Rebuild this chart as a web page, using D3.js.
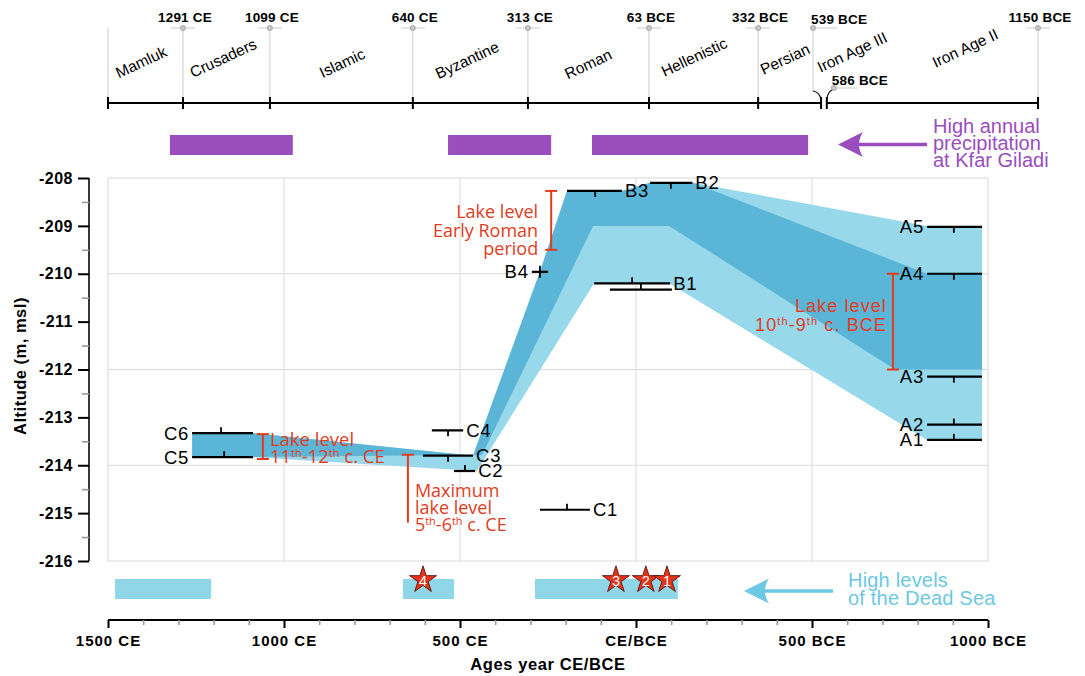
<!DOCTYPE html>
<html><head><meta charset="utf-8">
<script src="https://cdn.jsdelivr.net/npm/d3@7"></script>
<style>body{margin:0;background:#fff}svg{display:block}</style>
</head><body>
<svg id="chart" width="1085" height="676"></svg>
<script>
// ---------------- DATA ----------------
// years: CE positive, BCE negative
const yearDomain = [1500, -1000];
const altitudeDomain = [-208, -216];
const xTickYears = [1500, 1000, 500, 0, -500, -1000];
const xTickLabels = ["1500 CE", "1000 CE", "500 CE", "CE/BCE", "500 BCE", "1000 BCE"];
const xMinorYears = d3.range(1500, -1001, -100);
const yTickValues = [-208, -209, -210, -211, -212, -213, -214, -215, -216];
const yTickLabels = ["-208", "-209", "-210", "-211", "-212", "-213", "-214", "-215", "-216"];
const yMinorValues = [-208.5, -209.5, -210.5, -211.5, -212.5, -213.5, -214.5, -215.5];
const yGridValues = [-210, -212, -214];
const xGridYears = [1000, 500, 0, -500];

// dated samples (age ranges) and their altitudes
const sampleNames   = ["A1", "A2", "A3", "A4", "A5", "B1", "", "B2", "B3", "B4", "C1", "C2", "C3", "C4", "C5", "C6"];
const sampleAlt     = [-213.47, -213.15, -212.15, -210.0, -209.02, -210.2, -210.33, -208.1, -208.27, -209.96, -214.93, -214.12, -213.8, -213.27, -213.83, -213.33];
const sampleFrom    = [-827, -827, -827, -827, -827, 119, 74, -40, 196, 296, 273, 517, 605, 580, 1261, 1261];
const sampleTo      = [-983, -983, -983, -983, -983, -97, -102, -160, 40, 250, 131, 457, 463, 491, 1088, 1088];
const sampleMid     = [-903, -903, -903, -903, -903, 11, -14, -99, 116, 273, 196, 486, 534, 534, 1170, 1179];
const sampleTick    = ["up", "up", "down", "down", "down", "up", "up", "down", "down", "both", "up", "up", "down", "down", "up", "up"];
const sampleLabelAt = ["left", "left", "left", "left", "left", "right", "right", "right", "right", "left", "right", "right", "right", "right", "left", "left"];

// lake-level envelopes [year, altitude]
const lightUpper = [[1261, -213.33], [1088, -213.33], [463, -213.80], [273, -209.96], [196, -208.27], [40, -208.27], [-40, -208.10], [-162, -208.10], [-827, -209.0], [-983, -209.0]];
const lightLower = [[-983, -213.47], [-827, -213.47], [-94, -210.2], [119, -210.2], [452, -214.12], [1088, -213.83], [1261, -213.83]];
const darkUpper  = [[1261, -213.33], [1088, -213.33], [463, -213.80], [273, -209.96], [196, -208.27], [40, -208.27], [-40, -208.10], [-162, -208.10], [-827, -210.0], [-983, -210.0]];
const darkLower  = [[-983, -212.0], [-736, -212.0], [-94, -209.0], [122, -209.0], [437, -213.78], [1088, -213.83], [1261, -213.83]];

// red lake-level annotations
const annYear  = [241, -730, 1060, 648];
const annTop   = [-208.27, -210.0, -213.35, -213.78];
const annBot   = [-209.5, -212.0, -213.87, -215.2];
const annCaps  = ["both", "both", "both", "top"];
const annLines = [
  ["Lake level", "Early Roman", "period"],
  ["Lake level", "10^th^-9^th^ c. BCE"],
  ["Lake level", "11^th^-12^th^ c. CE"],
  ["Maximum", "lake level", "5^th^-6^th^ c. CE"]
];

// high Dead Sea levels and Kfar Giladi precipitation periods
const deadSeaStart = [1480, 662, 287];
const deadSeaEnd   = [1207, 517, -119];
const precipStart  = [1324, 534, 125];
const precipEnd    = [975, 241, -489];
const starLabels   = ["4", "3", "2", "1"];
const starYears    = [605, 57, -28, -88];

// historical timeline (positions)
const markerLabels  = ["1291 CE", "1099 CE", "640 CE", "313 CE", "63 BCE", "332 BCE", "539 BCE", "586 BCE", "1150 BCE"];
const markerPlotAt  = [1287, 1040, 634, 307, -37, -347, -503, -562, -1142];
const periodNames   = ["Mamluk", "Crusaders", "Islamic", "Byzantine", "Roman", "Hellenistic", "Persian", "Iron Age III", "Iron Age II"];
const periodPlotAt  = [1406, 1173, 835, 480, 136, -165, -423, -614, -935];

// ---------------- LAYOUT / STYLE ----------------
const FONT = "'Liberation Sans', Arial, Helvetica, sans-serif";
const SERIF_RED = "'Open Sans', 'Noto Sans', sans-serif";
const RED = "#e23c1e", DARK = "#5bb5d7", LIGHT = "#97d8eb", PURPLE = "#9a4ebe", DSBAR = "#8fd6e9", DSTEXT = "#6cc8e3";
const periodY = [62, 58, 63, 60, 64, 57, 59, 52, 48];

const svg = d3.select("#chart");
const x = d3.scaleLinear().domain(yearDomain).range([108, 988]);
const y = d3.scaleLinear().domain(altitudeDomain).range([178, 561]);

// rich text helper: ^..^ marks superscript
function rich(textSel, str, supSize) {
  const parts = str.split("^");
  let raised = false;
  parts.forEach((p, i) => {
    if (!p) return;
    const isSup = i % 2 === 1;
    const t = textSel.append("tspan").text(p);
    if (isSup && !raised) { t.attr("dy", -6).attr("font-size", supSize); raised = true; }
    else if (isSup) { t.attr("font-size", supSize); }
    else if (!isSup && raised) { t.attr("dy", 6); raised = false; }
  });
}

// ---------- grid & frame ----------
const grid = svg.append("g").attr("stroke", "#d9d9d9").attr("stroke-width", 1).attr("fill", "none");
grid.selectAll("line.v").data(xGridYears).join("line")
  .attr("x1", d => x(d)).attr("x2", d => x(d)).attr("y1", y(-208)).attr("y2", y(-216));
grid.selectAll("line.h").data(yGridValues).join("line")
  .attr("x1", x(1500)).attr("x2", x(-1000)).attr("y1", d => y(d)).attr("y2", d => y(d));
grid.append("rect").attr("x", x(1500)).attr("y", y(-208)).attr("width", x(-1000) - x(1500)).attr("height", y(-216) - y(-208));

// ---------- bands ----------
const pline = d3.line().x(d => x(d[0])).y(d => y(d[1]));
svg.append("path").attr("d", pline(lightUpper.concat(lightLower)) + "Z").attr("fill", LIGHT);
svg.append("path").attr("d", pline(darkUpper.concat(darkLower)) + "Z").attr("fill", DARK);

// ---------- red annotations ----------
const ann = svg.append("g");
annYear.forEach((yr, i) => {
  const cx = x(yr), y1 = y(annTop[i]), y2 = y(annBot[i]);
  ann.append("line").attr("x1", cx).attr("x2", cx).attr("y1", y1).attr("y2", y2).attr("stroke", RED).attr("stroke-width", 2);
  ann.append("line").attr("x1", cx - 6).attr("x2", cx + 6).attr("y1", y1).attr("y2", y1).attr("stroke", RED).attr("stroke-width", 2);
  if (annCaps[i] === "both")
    ann.append("line").attr("x1", cx - 6).attr("x2", cx + 6).attr("y1", y2).attr("y2", y2).attr("stroke", RED).attr("stroke-width", 2);
});
function annText(i, anchor, dx, baselines, family, size, ls) {
  annLines[i].forEach((s, k) => {
    const t = ann.append("text").attr("x", x(annYear[i]) + dx).attr("y", baselines[k])
      .attr("text-anchor", anchor).attr("fill", RED).attr("font-family", family)
      .attr("font-size", size).attr("letter-spacing", ls);
    rich(t, s, 11);
  });
}
annText(0, "end", -13, [218, 237, 255], SERIF_RED, 18, 0);
annText(1, "end", -6, [312, 331], FONT, 18, 1.1);
annText(2, "start", 7, [446, 463], SERIF_RED, 18.5, 0);
annText(3, "start", 7, [497, 514, 531], SERIF_RED, 18, 0);

// ---------- samples ----------
const smp = svg.append("g").attr("stroke", "#000").attr("stroke-width", 2.2);
sampleNames.forEach((n, i) => {
  const yy = y(sampleAlt[i]);
  smp.append("line").attr("x1", x(sampleFrom[i])).attr("x2", x(sampleTo[i])).attr("y1", yy).attr("y2", yy);
  const tx = x(sampleMid[i]);
  const t = sampleTick[i];
  const ya = t === "down" ? yy : yy - 6, yb = t === "up" ? yy : yy + 6;
  smp.append("line").attr("x1", tx).attr("x2", tx).attr("y1", ya).attr("y2", yb).attr("stroke-width", 1.8);
  if (n) {
    const left = sampleLabelAt[i] === "left";
    const ex = left ? Math.min(x(sampleFrom[i]), x(sampleTo[i])) - 3 : Math.max(x(sampleFrom[i]), x(sampleTo[i])) + 3;
    svg.append("text").attr("x", ex).attr("y", yy + 6.5).attr("text-anchor", left ? "end" : "start")
      .attr("font-family", FONT).attr("font-size", 18.5).attr("letter-spacing", 0.8).attr("fill", "#000").text(n);
  }
});

// ---------- y axis ----------
const yAxis = svg.append("g").attr("transform", "translate(89,0)")
  .call(d3.axisLeft(y).tickValues(yTickValues).tickSize(11).tickPadding(5).tickFormat((d, i) => yTickLabels[i]));
yAxis.select(".domain").attr("stroke", "#222").attr("stroke-width", 1.8).attr("d", `M0,${y(-208)}V${y(-216)}`);
yAxis.selectAll(".tick line").attr("stroke", "#000").attr("stroke-width", 2);
yAxis.selectAll(".tick text").attr("font-family", FONT).attr("font-size", 16).attr("font-weight", "bold").attr("letter-spacing", 0.5).attr("fill", "#000");
const yMinor = svg.append("g").attr("transform", "translate(89,0)")
  .call(d3.axisLeft(y).tickValues(yMinorValues).tickSize(7).tickFormat(""));
yMinor.select(".domain").remove();
yMinor.selectAll(".tick line").attr("stroke", "#999").attr("stroke-width", 1.6);
svg.append("text").attr("transform", "translate(26,366) rotate(-90)").attr("text-anchor", "middle")
  .attr("font-family", FONT).attr("font-size", 16.5).attr("font-weight", "bold").attr("letter-spacing", 0.5).text("Altitude (m, msl)");

// ---------- bottom bars, stars, arrow ----------
svg.selectAll("rect.ds").data(deadSeaStart).join("rect").attr("class", "ds")
  .attr("x", (d, i) => x(d)).attr("width", (d, i) => x(deadSeaEnd[i]) - x(d))
  .attr("y", 579).attr("height", 20).attr("fill", DSBAR);
const star = d3.symbol().type(d3.symbolStar).size(225);
starYears.forEach((yr, i) => {
  svg.append("path").attr("d", star()).attr("transform", `translate(${x(yr)},580)`)
    .attr("fill", "#e5321b").attr("stroke", "#5a1508").attr("stroke-width", 0.9);
  svg.append("text").attr("x", x(yr)).attr("y", 585.5).attr("text-anchor", "middle").attr("fill", "#fff")
    .attr("font-family", FONT).attr("font-size", 14.5).text(starLabels[i]);
});
function arrow(x0, x1, yc, color, w) {
  svg.append("line").attr("x1", x0 + 18).attr("x2", x1).attr("y1", yc).attr("y2", yc).attr("stroke", color).attr("stroke-width", w);
  svg.append("path").attr("fill", color)
    .attr("d", `M${x0},${yc} L${x0 + 25},${yc - 12.5} Q${x0 + 17},${yc} ${x0 + 25},${yc + 12.5} Z`);
}
arrow(744, 833, 591, DSTEXT, 3.4);
["High levels", "of the Dead Sea"].forEach((s, k) =>
  svg.append("text").attr("x", 848).attr("y", [587, 605][k]).attr("fill", DSTEXT)
    .attr("font-family", FONT).attr("font-size", 20).attr("letter-spacing", 0.2).text(s));

// ---------- x axis ----------
const xAxis = svg.append("g").attr("transform", "translate(0,620)")
  .call(d3.axisBottom(x).tickValues(xTickYears).tickSize(8).tickPadding(7).tickFormat((d, i) => xTickLabels[i]));
xAxis.select(".domain").attr("stroke", "#000").attr("stroke-width", 2).attr("d", `M${x(1500)},0H${x(-1000)}`);
xAxis.selectAll(".tick line").attr("stroke", "#000").attr("stroke-width", 2);
xAxis.selectAll(".tick text").attr("font-family", FONT).attr("font-size", 15).attr("font-weight", "bold").attr("letter-spacing", 1).attr("fill", "#000");
const xMinor = svg.append("g").attr("transform", "translate(0,620)")
  .call(d3.axisBottom(x).tickValues(xMinorYears.filter(v => v % 500 !== 0)).tickSize(5).tickFormat(""));
xMinor.select(".domain").remove();
xMinor.selectAll(".tick line").attr("stroke", "#999").attr("stroke-width", 1.6);
svg.append("text").attr("x", 548).attr("y", 670).attr("text-anchor", "middle")
  .attr("font-family", FONT).attr("font-size", 16.5).attr("font-weight", "bold").attr("letter-spacing", 0.6).text("Ages year CE/BCE");

// ---------- precipitation ----------
svg.selectAll("rect.pp").data(precipStart).join("rect").attr("class", "pp")
  .attr("x", d => x(d)).attr("width", (d, i) => x(precipEnd[i]) - x(d))
  .attr("y", 135).attr("height", 20).attr("fill", PURPLE);
arrow(838, 927, 144.5, PURPLE, 3.6);
["High annual", "precipitation", "at Kfar Giladi"].forEach((s, k) =>
  svg.append("text").attr("x", 933).attr("y", [133, 150, 167][k]).attr("fill", PURPLE)
    .attr("font-family", FONT).attr("font-size", 20).text(s));

// ---------- top timeline ----------
const TL = 103, TOP = 28;
const tl = svg.append("g");
const mx = markerPlotAt.map(d => x(d));
const breakL = mx[6] + 8, breakR = mx[7] - 7;
// gray guide lines
tl.append("line").attr("x1", x(1500)).attr("x2", x(1500)).attr("y1", TOP).attr("y2", TL).attr("stroke", "#ccc");
mx.forEach((px, i) => {
  if (i === 7) return;
  tl.append("line").attr("x1", px).attr("x2", px).attr("y1", TOP).attr("y2", i === 6 ? 91 : TL).attr("stroke", "#ccc");
});
// break hooks
tl.append("path").attr("d", `M${mx[6]},91 Q${mx[6] + 6},92 ${breakL},99`).attr("fill", "none").attr("stroke", "#000").attr("stroke-width", 1.2);
tl.append("path").attr("d", `M${mx[7]},89 Q${mx[7] - 6},91 ${breakR},99`).attr("fill", "none").attr("stroke", "#000").attr("stroke-width", 1.2);
// axis
tl.append("line").attr("x1", x(1500)).attr("x2", breakL).attr("y1", TL).attr("y2", TL).attr("stroke", "#000").attr("stroke-width", 2);
tl.append("line").attr("x1", breakR).attr("x2", mx[8]).attr("y1", TL).attr("y2", TL).attr("stroke", "#000").attr("stroke-width", 2);
const tickXs = [x(1500), mx[0], mx[1], mx[2], mx[3], mx[4], mx[5], breakL, breakR, mx[8]];
tickXs.forEach(px => tl.append("line").attr("x1", px).attr("x2", px).attr("y1", TL - 6).attr("y2", TL + 6).attr("stroke", "#000").attr("stroke-width", 2));
// markers
mx.forEach((px, i) => {
  const my = i === 7 ? 88 : TOP;
  const hx0 = (i === 6 || i === 7) ? px : px - 12, hx1 = (i === 6 || i === 7) ? px + 24 : px + 12;
  tl.append("line").attr("x1", hx0).attr("x2", hx1).attr("y1", my).attr("y2", my).attr("stroke", "#ccc");
  tl.append("circle").attr("cx", px).attr("cy", my).attr("r", 2.5).attr("fill", "#c8c8c8").attr("stroke", "#999").attr("stroke-width", 0.8);
  const start = (i === 6 || i === 7);
  tl.append("text").attr("x", start ? px - 2 : px + 2).attr("y", i === 7 ? 85 : (i === 6 ? 24 : 22))
    .attr("text-anchor", start ? "start" : "middle").attr("font-family", FONT).attr("font-size", 13.5)
    .attr("font-weight", "bold").attr("letter-spacing", 0.2).text(markerLabels[i]);
});
// period names
periodNames.forEach((n, i) => {
  tl.append("text").attr("transform", `translate(${x(periodPlotAt[i])},${periodY[i]}) rotate(-25)`)
    .attr("text-anchor", "middle").attr("dominant-baseline", "central")
    .attr("font-family", FONT).attr("font-size", 15.5).text(n);
});
</script>
</body></html>
